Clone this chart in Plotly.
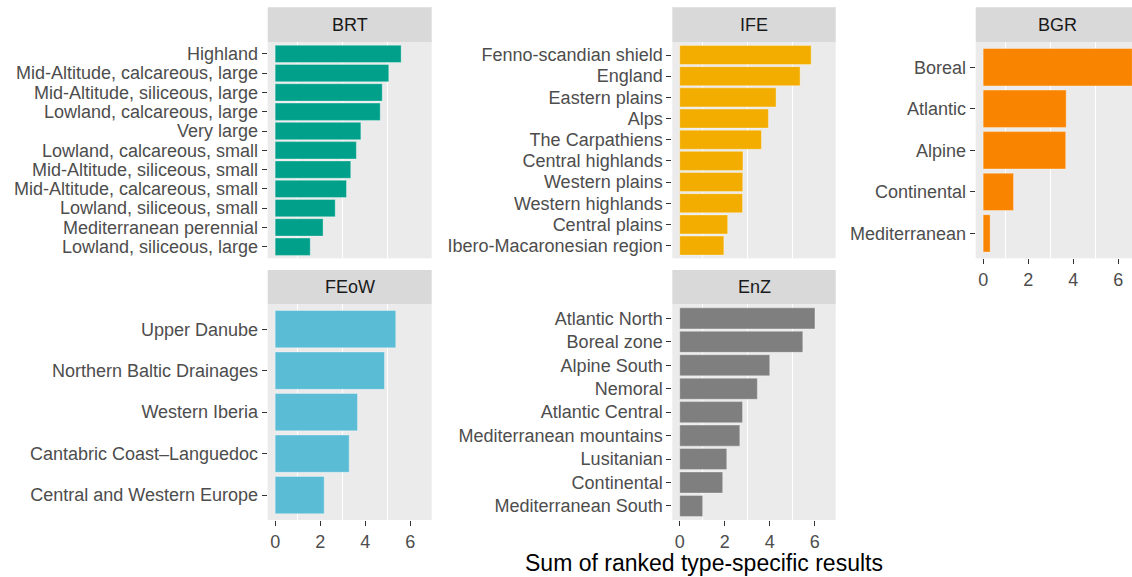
import plotly.graph_objects as go

# --- data ---
brt_labels = ["Highland", "Mid-Altitude, calcareous, large", "Mid-Altitude, siliceous, large",
              "Lowland, calcareous, large", "Very large", "Lowland, calcareous, small",
              "Mid-Altitude, siliceous, small", "Mid-Altitude, calcareous, small",
              "Lowland, siliceous, small", "Mediterranean perennial", "Lowland, siliceous, large"]
brt_values = [5.60, 5.05, 4.76, 4.67, 3.81, 3.61, 3.36, 3.17, 2.67, 2.13, 1.56]

ife_labels = ["Fenno-scandian shield", "England", "Eastern plains", "Alps", "The Carpathiens",
              "Central highlands", "Western plains", "Western highlands", "Central plains",
              "Ibero-Macaronesian region"]
ife_values = [5.84, 5.35, 4.28, 3.94, 3.63, 2.81, 2.80, 2.79, 2.13, 1.96]

bgr_labels = ["Boreal", "Atlantic", "Alpine", "Continental", "Mediterranean"]
bgr_values = [6.63, 3.69, 3.67, 1.35, 0.31]

feow_labels = ["Upper Danube", "Northern Baltic Drainages", "Western Iberia",
               "Cantabric Coast–Languedoc", "Central and Western Europe"]
feow_values = [5.36, 4.86, 3.66, 3.29, 2.18]

enz_labels = ["Atlantic North", "Boreal zone", "Alpine South", "Nemoral", "Atlantic Central",
              "Mediterranean mountains", "Lusitanian", "Continental", "Mediterranean South"]
enz_values = [6.01, 5.47, 4.00, 3.45, 2.79, 2.67, 2.09, 1.91, 1.02]

x_ticks = [0, 2, 4, 6]
x_title = "Sum of ranked type-specific results"

# --- layout helpers (pixel geometry of the 1132x577 canvas) ---
W, H = 1132, 577
FONT = "Liberation Sans, Arial, Helvetica, sans-serif"

def px_x(a, b):
    return [a / W, min(b / W, 1.0)]

def px_y(top, bottom):
    return [1 - bottom / H, 1 - top / H]

cols = [(267.7, 431.7), (672.3, 835.7), (975.7, 1132)]
rows = [(42.3, 258.3), (304.3, 520.0)]
strips = [(7.3, 42.3), (270.0, 304.3)]

panels = [
    ("BRT", brt_labels, brt_values, "#00A08A", 0, 0, False),
    ("IFE", ife_labels, ife_values, "#F2AD00", 0, 1, False),
    ("BGR", bgr_labels, bgr_values, "#F98400", 0, 2, True),
    ("FEoW", feow_labels, feow_values, "#5BBCD6", 1, 0, True),
    ("EnZ", enz_labels, enz_values, "#7F7F7F", 1, 1, True),
]

fig = go.Figure()
layout = {}
shapes = []
annotations = []

for i, (name, labels, values, color, r, c, show_x) in enumerate(panels):
    n = i + 1
    xa = "x" if n == 1 else f"x{n}"
    ya = "y" if n == 1 else f"y{n}"

    fig.add_trace(go.Bar(
        x=values, y=labels, orientation="h", xaxis=xa, yaxis=ya,
        width=0.9, marker=dict(color=color, line=dict(color="rgba(255,255,255,0.35)", width=1)),
        showlegend=False, hoverinfo="x+y",
    ))

    x0, x1 = cols[c]
    xr_end = -0.331 + (x1 - x0) / 22.5
    layout["xaxis" if n == 1 else f"xaxis{n}"] = dict(
        domain=px_x(x0, x1), anchor=ya, range=[-0.331, xr_end],
        tickvals=x_ticks, showgrid=False, zeroline=False,
        showticklabels=show_x, ticks="outside" if show_x else "",
        ticklen=5, tickwidth=1.1, tickcolor="#333333",
        tickfont=dict(family=FONT, size=18, color="#4D4D4D"),
        minor=dict(tickvals=[1, 3, 5], showgrid=True, gridcolor="white", gridwidth=1.1, ticks=""),
        fixedrange=True,
    )
    layout["yaxis" if n == 1 else f"yaxis{n}"] = dict(
        domain=px_y(*rows[r]), anchor=xa, type="category",
        categoryarray=labels, range=[len(labels) - 0.4, -0.6],
        tickmode="array", tickvals=labels, ticktext=labels,
        showgrid=False, zeroline=False, ticks="outside", ticklen=5, tickwidth=1.1,
        tickcolor="#333333", tickfont=dict(family=FONT, size=18, color="#4D4D4D"),
        fixedrange=True,
    )

    # facet strip; the third column runs past the canvas edge, so centre on the full width
    st, sb = strips[r]
    full_right = 1140 if c == 2 else x1
    shapes.append(dict(type="rect", xref="paper", yref="paper",
                       x0=x0 / W, x1=min(x1 / W, 1.0), y0=1 - sb / H, y1=1 - st / H,
                       fillcolor="#D9D9D9", line=dict(width=0), layer="below"))
    annotations.append(dict(text=name, xref="paper", yref="paper",
                            x=(x0 + full_right) / 2 / W, y=1 - (st + sb) / 2 / H,
                            xanchor="center", yanchor="middle", showarrow=False,
                            font=dict(family=FONT, size=18, color="#1A1A1A")))

annotations.append(dict(text=x_title, xref="paper", yref="paper", x=704 / W, y=1 - 563 / H,
                        xanchor="center", yanchor="middle", showarrow=False,
                        font=dict(family=FONT, size=23, color="black")))

fig.update_layout(
    width=W, height=H,
    margin=dict(l=0, r=0, t=0, b=0),
    paper_bgcolor="white", plot_bgcolor="#EBEBEB",
    bargap=0.1, shapes=shapes, annotations=annotations,
    font=dict(family=FONT),
    **layout,
)

# drop the browser's default 8px body margin so the figure sits at the window origin
fig.write_html("out.html", config={"displayModeBar": False},
               post_script="document.body.style.margin='0';")
